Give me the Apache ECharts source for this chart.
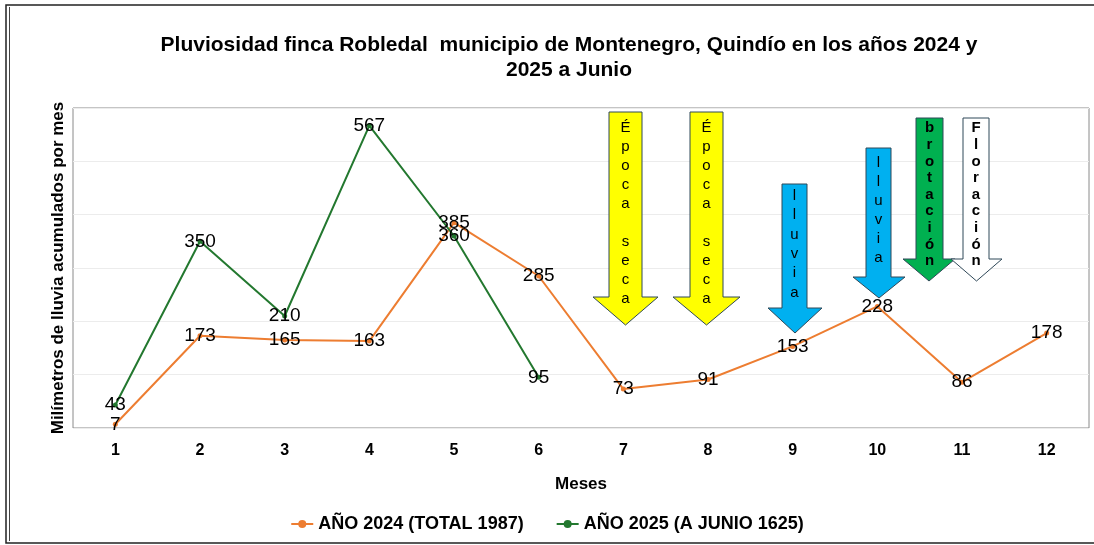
<!DOCTYPE html>
<html>
<head>
<meta charset="utf-8">
<script src="https://cdn.jsdelivr.net/npm/echarts@6/dist/echarts.min.js"></script>
<style>
  html, body { margin: 0; padding: 0; background: #fff; }
  #main { width: 1094px; height: 545px; }
</style>
</head>
<body>
<div id="main"></div>
<script>
const meses = ['1', '2', '3', '4', '5', '6', '7', '8', '9', '10', '11', '12'];
const lluvia2024 = [7, 173, 165, 163, 385, 285, 73, 91, 153, 228, 86, 178];
const lluvia2025 = [43, 350, 210, 567, 360, 95];
const nombre2024 = 'AÑO 2024 (TOTAL 1987)';
const nombre2025 = 'AÑO 2025 (A JUNIO 1625)';

const boldFont = 'Liberation Sans';

// flechas de anotación (en pixeles)
function flecha(x0, x1, top, headY, hx0, hx1, tipY, fill, texto, bold, lh, textTop) {
  const cx = (hx0 + hx1) / 2;
  return [{
    type: 'polygon',
    shape: {
      points: [[x0, top], [x1, top], [x1, headY], [hx1, headY], [cx, tipY],
               [hx0, headY], [x0, headY]]
    },
    style: { fill: fill, stroke: '#2f4858', lineWidth: 1 },
    z: 10
  }, {
    type: 'text',
    x: (x0 + x1) / 2,
    y: textTop,
    style: {
      text: texto.split('').join('\n'),
      align: 'center',
      verticalAlign: 'top',
      fill: '#000',
      font: (bold ? 'bold ' : '') + '15px "Liberation Sans"',
      lineHeight: lh
    },
    z: 11
  }];
}

const myChart = echarts.init(document.getElementById('main'));

const option = {
  animation: false,
  backgroundColor: '#fff',
  title: {
    text: 'Pluviosidad finca Robledal  municipio de Montenegro, Quindío en los años 2024 y\n2025 a Junio',
    left: 564,
    top: 28,
    textAlign: 'center',
    textStyle: {
      fontFamily: 'Liberation Sans',
      fontWeight: 'bold',
      fontSize: 21,
      lineHeight: 25,
      color: '#000'
    }
  },
  legend: {
    top: 510,
    left: 'center',
    itemWidth: 22,
    itemHeight: 10,
    itemGap: 32,
    textStyle: { fontFamily: boldFont, fontWeight: 'bold', fontSize: 18, color: '#000' },
    data: [nombre2024, nombre2025]
  },
  grid: {
    left: 73,
    right: 5,
    top: 108,
    bottom: 117,
    show: true,
    borderColor: '#8a8a8a',
    borderWidth: 1
  },
  xAxis: {
    type: 'category',
    data: meses,
    boundaryGap: true,
    axisLine: { show: false },
    axisTick: { show: false },
    axisLabel: {
      margin: 15,
      fontFamily: boldFont,
      fontWeight: 'bold',
      fontSize: 16,
      color: '#000'
    },
    name: 'Meses',
    nameLocation: 'middle',
    nameGap: 48,
    nameTextStyle: { fontFamily: boldFont, fontWeight: 'bold', fontSize: 17, color: '#000' }
  },
  yAxis: {
    type: 'value',
    min: 0,
    max: 600,
    interval: 100,
    axisLine: { show: false },
    axisTick: { show: false },
    axisLabel: { show: false },
    splitLine: { lineStyle: { color: '#ececec', width: 1 } },
    name: 'Milímetros de lluvia acumulados por mes',
    nameLocation: 'middle',
    nameGap: 6,
    nameTextStyle: { fontFamily: boldFont, fontWeight: 'bold', fontSize: 17, color: '#000' }
  },
  series: [
    {
      name: nombre2024,
      type: 'line',
      data: lluvia2024,
      symbol: 'circle',
      symbolSize: 5,
      itemStyle: { color: '#ED7D31' },
      lineStyle: { color: '#ED7D31', width: 2 },
      label: {
        show: true,
        position: 'inside',
        color: '#000',
        fontFamily: 'Liberation Sans',
        fontSize: 19
      },
      z: 3
    },
    {
      name: nombre2025,
      type: 'line',
      data: lluvia2025,
      symbol: 'circle',
      symbolSize: 5,
      itemStyle: { color: '#23782f' },
      lineStyle: { color: '#23782f', width: 2 },
      label: {
        show: true,
        position: 'inside',
        color: '#000',
        fontFamily: 'Liberation Sans',
        fontSize: 19
      },
      z: 3
    }
  ],
  graphic: [
    {
      type: 'rect',
      shape: { x: 6, y: 5, width: 1100, height: 538 },
      style: { fill: null, stroke: '#222', lineWidth: 1.5 },
      silent: true
    },
    {
      type: 'line',
      shape: { x1: 9.5, y1: 7, x2: 9.5, y2: 541 },
      style: { stroke: '#444', lineWidth: 1 },
      silent: true
    }
  ]
    .concat(flecha(609, 642, 112, 297, 593, 658, 325, '#FFFF00', 'Época seca', false, 19, 118))
    .concat(flecha(690, 723, 112, 297, 673, 740, 325, '#FFFF00', 'Época seca', false, 19, 118))
    .concat(flecha(782, 807, 184, 308, 768, 822, 333, '#00B0F0', 'lluvia', false, 19.4, 186))
    .concat(flecha(866, 891, 148, 277, 853, 905, 298, '#00B0F0', 'lluvia', false, 19, 153))
    .concat(flecha(916, 943, 118, 259, 903, 955, 281, '#00B050', 'brotación', true, 16.6, 120))
    .concat(flecha(963, 989, 118, 259, 951, 1002, 281, '#FFFFFF', 'Floración', true, 16.6, 120))
};

myChart.setOption(option);
</script>
</body>
</html>
